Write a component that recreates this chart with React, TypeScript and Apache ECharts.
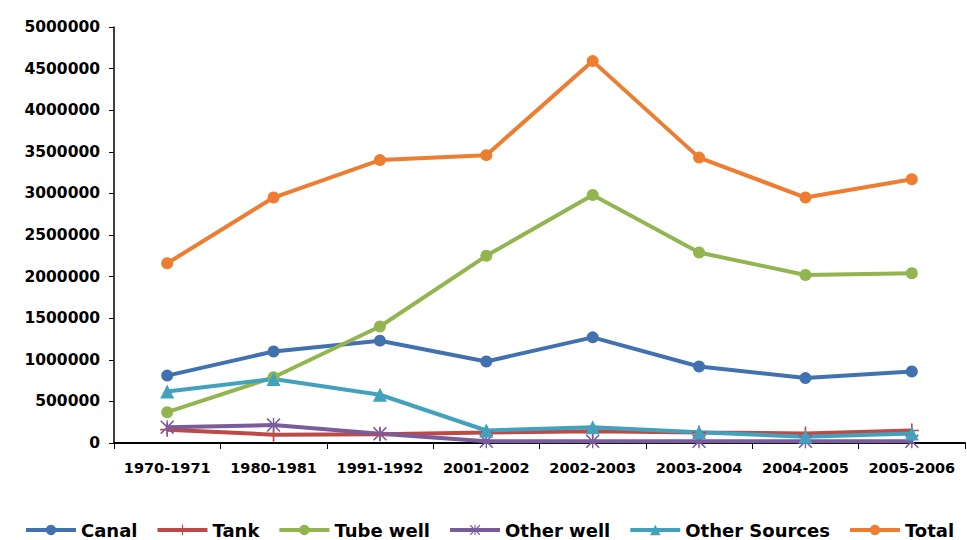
import React, { useEffect, useRef } from "react";
import * as echarts from "echarts";

const categories = ["1970-1971", "1980-1981", "1991-1992", "2001-2002", "2002-2003", "2003-2004", "2004-2005", "2005-2006"];
const canal = [810000, 1100000, 1230000, 980000, 1270000, 920000, 780000, 860000];
const tank = [160000, 100000, 105000, 125000, 140000, 125000, 115000, 150000];
const tubeWell = [370000, 790000, 1400000, 2250000, 2980000, 2290000, 2020000, 2040000];
const otherWell = [190000, 215000, 110000, 20000, 20000, 20000, 20000, 20000];
const otherSources = [620000, 770000, 580000, 150000, 190000, 130000, 75000, 115000];
const total = [2160000, 2950000, 3400000, 3460000, 4590000, 3430000, 2950000, 3170000];

const FONT = "DejaVu Sans";
const PLUS = "path://M4.4,0h1.2v10h-1.2z M0,4.4h10v1.2h-10z";
const CROSS = "path://M0.8,0L5,4.2L9.2,0L10,0.8L5.8,5L10,9.2L9.2,10L5,5.8L0.8,10L0,9.2L4.2,5L0,0.8z M4.5,0h1v10h-1z";

export default function App() {
  const ref = useRef<HTMLDivElement>(null);
  useEffect(() => {
    if (!ref.current) return;
    const chart = echarts.init(ref.current, undefined, { renderer: "svg" });
    const mk = (name: string, data: number[], color: string, symbol: string, size: number) => ({
      name,
      type: "line",
      data,
      symbol,
      symbolSize: size,
      lineStyle: { width: 4, color },
      itemStyle: { color },
      z: 2,
    });
    chart.setOption({
      animation: false,
      textStyle: { fontFamily: FONT },
      grid: { left: 114, right: 2, top: 27, bottom: 97 },
      legend: {
        bottom: 1,
        left: 24,
        width: 943,
        padding: 0,
        itemWidth: 50,
        itemHeight: 13,
        itemGap: 18,
        lineStyle: { width: 4 },
        textStyle: { fontFamily: FONT, fontWeight: "bold", fontSize: 18, color: "#000" },
        data: ["Canal", "Tank", "Tube well", "Other well", "Other Sources", "Total"],
      },
      xAxis: {
        type: "category",
        data: categories,
        boundaryGap: true,
        axisLine: { lineStyle: { color: "#000", width: 2 } },
        axisTick: { show: true, interval: 0, alignWithLabel: false, length: 6, lineStyle: { color: "#000", width: 1 } },
        axisLabel: { interval: 0, fontFamily: FONT, fontWeight: "bold", fontSize: 14.5, color: "#000", margin: 17 },
        splitLine: { show: false },
      },
      yAxis: {
        type: "value",
        min: 0,
        max: 5000000,
        interval: 500000,
        axisLine: { show: true, lineStyle: { color: "#000", width: 1.5 } },
        axisTick: { show: true, length: 5, lineStyle: { color: "#000" } },
        axisLabel: {
          fontFamily: FONT,
          fontWeight: "bold",
          fontSize: 15.5,
          color: "#000",
          margin: 14,
          formatter: (v: number) => String(v),
        },
        splitLine: { show: false },
      },
      series: [
        mk("Canal", canal, "#4271b0", "circle", 12),
        mk("Tank", tank, "#bd4a47", PLUS, 14),
        mk("Tube well", tubeWell, "#93b54f", "circle", 12),
        mk("Other well", otherWell, "#7a5c9d", CROSS, 14),
        mk("Other Sources", otherSources, "#42a2bd", "triangle", 14),
        mk("Total", total, "#ec7d31", "circle", 12),
      ],
    });
    return () => chart.dispose();
  }, []);
  return <div ref={ref} style={{ width: 967, height: 540, position: "absolute", left: 0, top: 0, background: "#fff" }} />;
}
